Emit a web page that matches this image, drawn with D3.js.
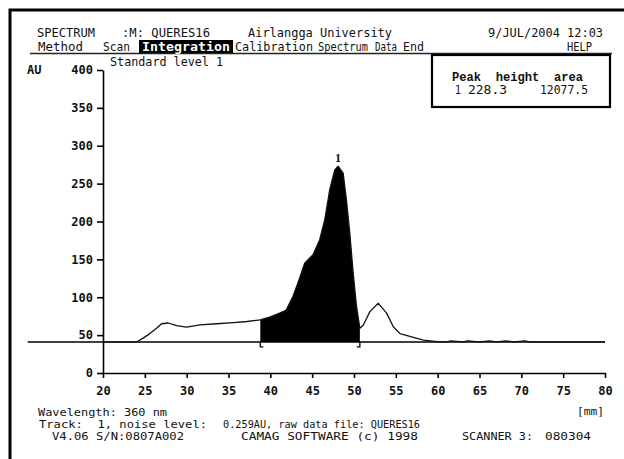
<!DOCTYPE html>
<html>
<head>
<meta charset="utf-8">
<script src="https://cdn.jsdelivr.net/npm/d3@7"></script>
<style>
body { margin: 0; background: #fff; }
text { font-family: "DejaVu Sans Mono", "Liberation Mono", monospace; fill: #111; white-space: pre; }
</style>
</head>
<body>
<svg id="chart"></svg>
<script>
// densitogram (track 1, 360 nm)
var positions = [20, 24, 24.8, 25.6, 26.4, 27.0, 27.8, 28.8, 30.0, 31.6, 33.6, 35.6, 37.2, 38.8,
                 40.0, 41.1, 41.9, 42.7, 43.5, 44.1, 45.1, 45.9, 46.5, 47.1, 47.7, 48.1, 48.7,
                 49.1, 49.5, 49.9, 50.3, 50.7, 51.1, 51.9, 52.9, 53.9, 54.7, 55.5, 57.1, 58.3,
                 60.0, 61.0, 61.6, 63.0, 63.6, 65.0, 66.2, 67.0, 68.2, 69.2, 70.4, 71.0, 80];
var heights = [41, 41, 46, 52, 59, 65, 66, 62.5, 60.5, 63.5, 65, 66.5, 68, 70,
               74, 79, 83, 101, 125, 145, 156, 176, 202, 242, 268, 273, 264,
               228, 184, 132, 88, 59, 63, 81, 92, 79, 61, 52, 47, 43.5,
               41.5, 41, 42.5, 41, 42.5, 41, 42.5, 41, 42.5, 41, 42.5, 41, 41];

var yTicks = [0, 50, 100, 150, 200, 250, 300, 350, 400];
var xTicks = [20, 25, 30, 35, 40, 45, 50, 55, 60, 65, 70, 75, 80];

var baselineAU = 41;
var baselineFrom = 11, baselineTo = 80;
var peakStart = 38.8, peakEnd = 50.7;

var peakIds = ["1"];
var peakHeights = ["228.3"];
var peakAreas = ["12077.5"];

var width = 624, height = 459;

var svg = d3.select("#chart")
    .attr("width", width)
    .attr("height", height);

// frame of the scanned screen (only top and left survive)
svg.append("path")
    .attr("d", "M10,459V10H624")
    .attr("fill", "none")
    .attr("stroke", "#000")
    .attr("stroke-width", 3);

// text helper: [string, x0, x1, y]
function row(items, size, cls) {
    svg.selectAll("text." + cls).data(items).enter().append("text")
        .attr("class", cls)
        .attr("x", function(d) { return d[1]; })
        .attr("y", function(d) { return d[3]; })
        .attr("textLength", function(d) { return d[2] - d[1]; })
        .attr("lengthAdjust", "spacingAndGlyphs")
        .attr("dominant-baseline", "central")
        .attr("font-size", size)
        .text(function(d) { return d[0]; });
}

row([
    ["SPECTRUM", 37, 95, 33], [":M: QUERES16", 122, 210, 33], ["Airlangga University", 248, 392, 33],
    ["9/JUL/2004 12:03", 488, 603, 33],
    ["Method", 38, 83, 47], ["Scan", 103, 130, 47], ["Calibration", 235, 313, 47],
    ["Spectrum", 318, 368, 47], ["Data", 375, 397, 47], ["End", 403, 424, 47], ["HELP", 567, 592, 47]
], "12px", "hdr");

svg.append("line")
    .attr("x1", 30).attr("x2", 612).attr("y1", 53.5).attr("y2", 53.5)
    .attr("stroke", "#222").attr("stroke-width", 1.5);

svg.append("rect")
    .attr("x", 139).attr("y", 40).attr("width", 94).attr("height", 13)
    .attr("fill", "#000");
svg.append("text")
    .attr("x", 142).attr("y", 46.5)
    .attr("textLength", 88).attr("lengthAdjust", "spacingAndGlyphs")
    .attr("dominant-baseline", "central")
    .attr("font-size", "12.5px")
    .attr("font-weight", "bold")
    .style("fill", "#fff")
    .text("Integration");

row([["Standard level 1", 110, 223, 62]], "12px", "sub");
svg.append("text").attr("x", 27).attr("y", 70).attr("dominant-baseline", "central")
    .attr("font-size", "12px").attr("font-weight", "bold").text("AU");

// scales
var x = d3.scaleLinear().domain([20, 80]).range([103, 605]);
var y = d3.scaleLinear().domain([0, 400]).range([373, 70]);

var yAxis = svg.append("g")
    .attr("transform", "translate(103,0)")
    .call(d3.axisLeft(y).tickValues(yTicks).tickSize(6).tickSizeOuter(0).tickPadding(4));
var xAxis = svg.append("g")
    .attr("transform", "translate(0,373)")
    .call(d3.axisBottom(x).tickValues(xTicks).tickSize(5).tickSizeOuter(0).tickPadding(8));

[xAxis, yAxis].forEach(function(ax) {
    ax.selectAll("path, line").attr("stroke", "#000").attr("stroke-width", 1.6);
    ax.selectAll("text")
        .attr("font-family", "\"DejaVu Sans Mono\", monospace")
        .attr("font-size", "12px")
        .attr("font-weight", "bold")
        .attr("fill", "#111");
});

// integration baseline
svg.append("line")
    .attr("x1", x(baselineFrom)).attr("x2", x(baselineTo))
    .attr("y1", y(baselineAU)).attr("y2", y(baselineAU))
    .attr("stroke", "#000").attr("stroke-width", 1.5);

var pts = positions.map(function(p, i) { return {x: p, v: heights[i]}; });

// filled peak area
var peakPts = pts.filter(function(d) { return d.x >= peakStart && d.x <= peakEnd; });
svg.append("path")
    .datum(peakPts)
    .attr("fill", "#000")
    .attr("d", d3.area()
        .x(function(d) { return x(d.x); })
        .y0(y(baselineAU))
        .y1(function(d) { return y(d.v); }));

// scan curve
svg.append("path")
    .datum(pts)
    .attr("fill", "none")
    .attr("stroke", "#111")
    .attr("stroke-width", 1.3)
    .attr("stroke-linejoin", "round")
    .attr("d", d3.line()
        .x(function(d) { return x(d.x); })
        .y(function(d) { return y(d.v); }));

// integration brackets
[[peakStart, 1], [peakEnd, -1]].forEach(function(b) {
    var bx = x(b[0]), by = y(baselineAU);
    svg.append("path")
        .attr("d", "M" + bx + "," + by + "V" + (by + 5) + "h" + (3 * b[1]))
        .attr("fill", "none").attr("stroke", "#000").attr("stroke-width", 1.3);
});

// peak number above the maximum
var peakTop = pts.reduce(function(a, b) { return b.v > a.v ? b : a; });
svg.append("text")
    .attr("x", x(peakTop.x)).attr("y", y(peakTop.v) - 8)
    .attr("text-anchor", "middle")
    .attr("dominant-baseline", "central")
    .style("font-family", "\"Liberation Serif\", serif")
    .attr("font-weight", "bold")
    .attr("font-size", "12px")
    .text(peakIds[0]);

// result box
svg.append("rect")
    .attr("x", 432).attr("y", 55).attr("width", 178).attr("height", 52)
    .attr("fill", "#fff").attr("stroke", "#000").attr("stroke-width", 2.2);
svg.append("text").attr("x", 452).attr("y", 77).attr("dominant-baseline", "central")
    .attr("textLength", 131).attr("lengthAdjust", "spacingAndGlyphs")
    .style("font-family", "\"Liberation Mono\", monospace")
    .attr("font-size", "13px").attr("font-weight", "bold").text("Peak  height  area");
peakIds.forEach(function(id, i) {
    var ry = 90 + i * 13;
    row([[id, 455, 461, ry], [peakHeights[i], 468, 507, ry], [peakAreas[i], 540, 588, ry]],
        "12px", "res" + i);
});

// footer
row([
    ["Wavelength: 360 nm", 38, 167, 412], ["[mm]", 577, 604, 411],
    ["Track:  1, noise level:", 39, 207, 424], ["0.259AU, raw data file: QUERES16", 223, 420, 424],
    ["V4.06 S/N:0807A002", 52, 184, 436], ["CAMAG SOFTWARE (c) 1998", 241, 418, 436],
    ["SCANNER 3:", 462, 533, 436], ["080304", 545, 591, 436]
], "11px", "ftr");
</script>
</body>
</html>
